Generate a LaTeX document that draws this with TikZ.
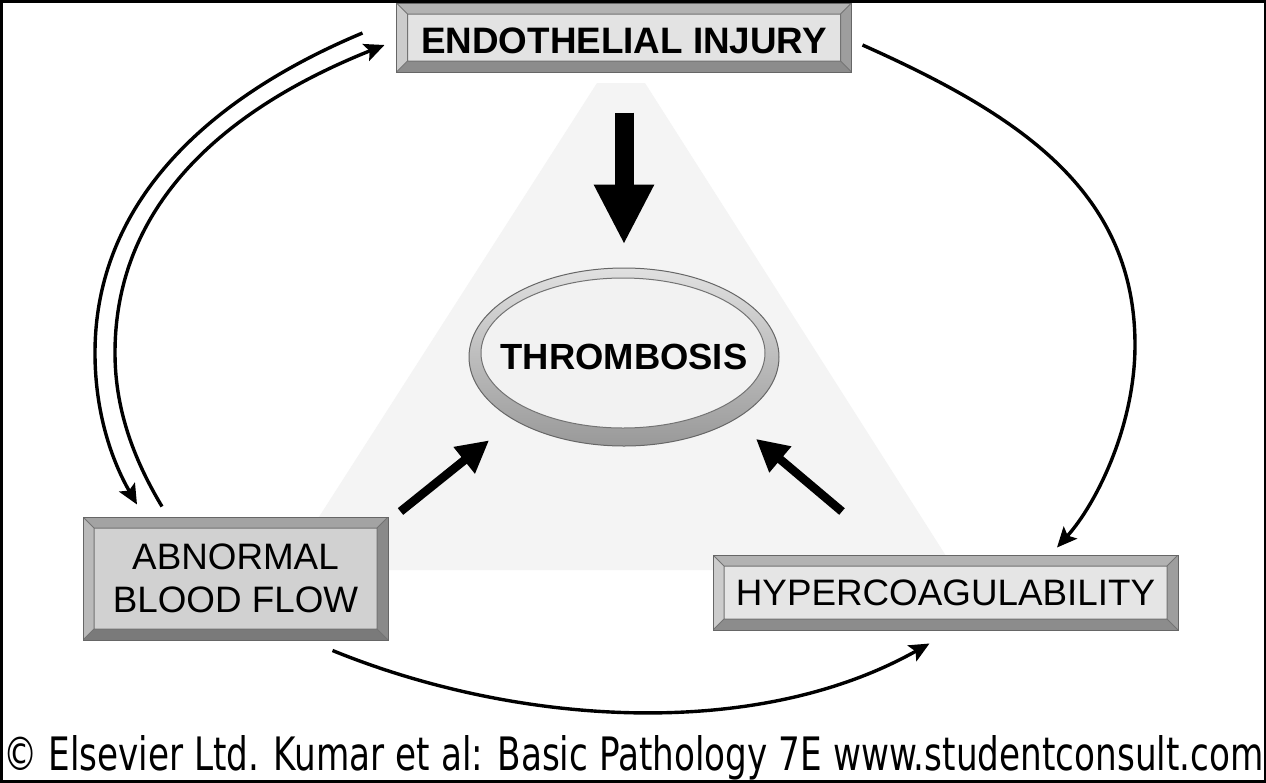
\documentclass[tikz,border=0pt]{standalone}
\usepackage{fontspec}
\usepackage{graphicx}
\setmainfont{Liberation Sans}
\newfontfamily\footfont{DejaVu Sans}
\usetikzlibrary{arrows.meta,shapes.geometric}
\definecolor{trifill}{HTML}{F4F4F4}
\newcommand\bevelpic{%
  \def\bw{5.5pt}%
  \coordinate (bNW) at (path picture bounding box.north west);
  \coordinate (bSE) at (path picture bounding box.south east);
  \coordinate (bNE) at (path picture bounding box.north east);
  \coordinate (bSW) at (path picture bounding box.south west);
  \coordinate (iNW) at ([shift={(\bw,-\bw)}]bNW);
  \coordinate (iNE) at ([shift={(-\bw,-\bw)}]bNE);
  \coordinate (iSE) at ([shift={(-\bw,\bw)}]bSE);
  \coordinate (iSW) at ([shift={(\bw,\bw)}]bSW);
  \fill[bvT] (bNW) -- (bNE) -- (iNE) -- (iNW) -- cycle;
  \fill[bvB] (bSW) -- (bSE) -- (iSE) -- (iSW) -- cycle;
  \fill[bvL] (bNW) -- (iNW) -- (iSW) -- (bSW) -- cycle;
  \fill[bvR] (bNE) -- (iNE) -- (iSE) -- (bSE) -- cycle;
  \draw[black!55, line width=0.5pt] (iNW) rectangle (iSE)
     (bNW) -- (iNW) (bNE) -- (iNE) (bSE) -- (iSE) (bSW) -- (iSW);
}
\tikzset{
  bevel light/.code={\colorlet{bvT}{black!30}\colorlet{bvL}{black!20}\colorlet{bvR}{black!38}\colorlet{bvB}{black!45}},
  bevel dark/.code={\colorlet{bvT}{black!36}\colorlet{bvL}{black!27}\colorlet{bvR}{black!46}\colorlet{bvB}{black!52}},
  bevelbox/.style={rectangle, draw=black!60, line width=0.5pt, inner sep=0pt,
     align=center, path picture={\bevelpic}},
  boxfont/.style={font=\fontsize{18.4pt}{21.5pt}\selectfont},
  bigarrow/.style={line width=9.5pt, -{Triangle[width=28pt,length=30pt]}},
  diagarrow/.style={line width=4.3pt, -{Triangle[width=16pt,length=16pt]}},
  arcarrow/.style={line width=1.7pt, -{Stealth[length=10pt,width=9pt,inset=2pt]}},
}
\begin{document}
\begin{tikzpicture}[x=0.5pt,y=-0.5pt]
\useasboundingbox (0,0) rectangle (1266,783);
\fill[white] (0,0) rectangle (1266,783);
% background triangle
\fill[trifill] (597,83) -- (645,83) -- (955,570) -- (285,570) -- cycle;

% nodes
\node[bevelbox, bevel light, fill=black!11, minimum width=227.5pt, minimum height=34.5pt,
      font=\bfseries\fontsize{18.4pt}{21.5pt}\selectfont, text height=16pt] (ei) at (624,37.5) {ENDOTHELIAL INJURY};
\node[bevelbox, bevel dark, fill=black!18, minimum width=152.5pt, minimum height=61.5pt, boxfont] (lbf) at (235.5,578.5) {ABNORMAL\\BLOOD FLOW};
\node[bevelbox, bevel light, fill=black!10, minimum width=232.5pt, minimum height=37.5pt, boxfont] (hc) at (945.5,592.5) {HYPERCOAGULABILITY};
\node[ellipse, minimum width=155pt, minimum height=89pt, inner sep=0pt, draw=black!60, line width=0.5pt,
      top color=black!12, bottom color=black!40,
      font=\bfseries\fontsize{18.2pt}{20pt}\selectfont,
      path picture={\filldraw[fill=black!5, draw=black!55, line width=0.5pt]
         ([shift={(-0.5pt,2pt)}]path picture bounding box.center) ellipse [x radius=71pt, y radius=37.5pt];}]
      (thr) at (624,357) {\makebox[0pt]{THROMBOSIS}};

% waypoints of the curved connectors
\coordinate (lw1) at (95,353);
\coordinate (lw2) at (115,353);
\coordinate (rw) at (1135,345);

% straight arrows into thrombosis
\draw[bigarrow, shorten <=20pt, shorten >=11.5pt] (ei.south) -- (thr.north);
\draw[diagarrow, shorten >=16pt] ([shift={(12,-5)}]lbf.north east) -- (thr.south west);
\draw[diagarrow, shorten >=14.4pt] ([shift={(-103.5,-43)}]hc.north) -- (thr.south east);

% curved arrows
\draw[arcarrow] ([shift={(-33.5,-4.5)}]ei.west) .. controls (207,98) and (95,203) .. (lw1)
   .. controls (95,413) and (112,461) .. ([shift={(-98.5,-12)}]lbf.north);
\draw[arcarrow] ([shift={(-73.5,-10)}]lbf.north) .. controls (136.5,464) and (115,413) .. (lw2)
   .. controls (115,203) and (227,108) .. ([shift={(-11.5,7.5)}]ei.west);
\draw[arcarrow] ([shift={(10.5,7.5)}]ei.east) .. controls (1017,114) and (1135,190) .. (rw)
   .. controls (1135,425) and (1097,503) .. ([shift={(111.5,-7)}]hc.north);
\draw[arcarrow] ([shift={(-56,10)}]lbf.south east) .. controls (518,726) and (756,741) .. ([shift={(217,13)}]hc.south west);

% footer
\node[anchor=base west, inner sep=0pt] (cr) at (3,770)
  {\resizebox{630pt}{17.5pt}{\footfont © Elsevier Ltd. Kumar et al: Basic Pathology 7E www.studentconsult.com}};

% frame
\draw[line width=1.5pt] (1,1) rectangle (1265,781);
\end{tikzpicture}
\end{document}
